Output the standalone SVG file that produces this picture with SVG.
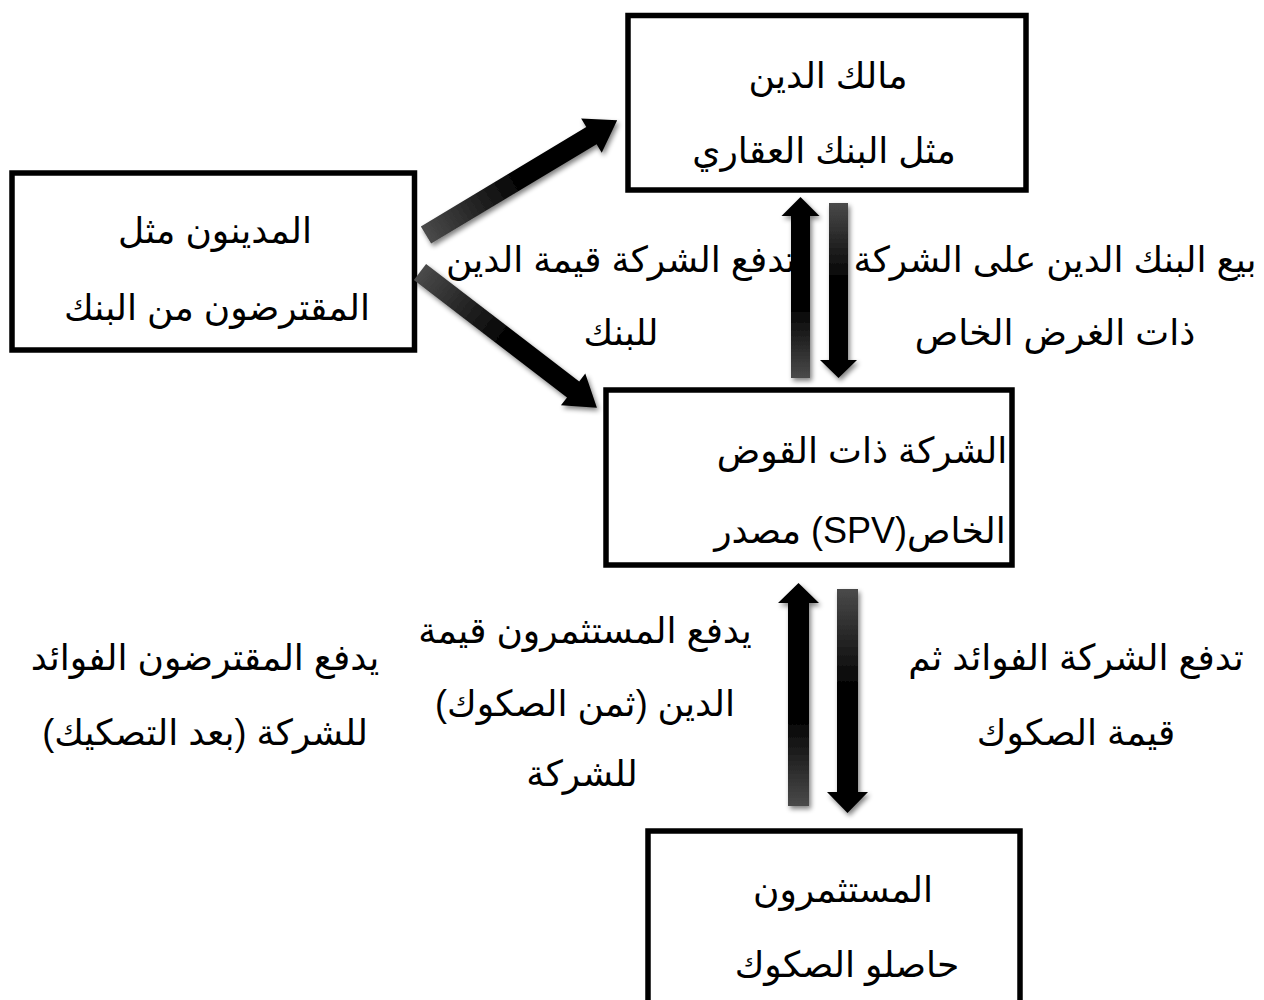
<svg xmlns="http://www.w3.org/2000/svg" width="1264" height="1000" viewBox="0 0 1264 1000">
<style>
.box{fill:#fff;stroke:#000;stroke-width:5.5}
.t{font-family:"Liberation Sans","DejaVu Sans",sans-serif;font-size:36px;fill:#000;text-anchor:middle;direction:rtl}
</style>
<defs>
<linearGradient id="gUp" x1="0" y1="0" x2="0" y2="1">
<stop offset="0" stop-color="#000"/><stop offset="0.6" stop-color="#000"/><stop offset="1" stop-color="#4a4a4a"/>
</linearGradient>
<linearGradient id="gDown" x1="0" y1="0" x2="0" y2="1">
<stop offset="0" stop-color="#4a4a4a"/><stop offset="0.45" stop-color="#000"/><stop offset="1" stop-color="#000"/>
</linearGradient>
<linearGradient id="gDiag" x1="0" y1="0" x2="1" y2="0">
<stop offset="0" stop-color="#4a4a4a"/><stop offset="0.5" stop-color="#000"/><stop offset="1" stop-color="#000"/>
</linearGradient>
<filter id="sh" x="-20%" y="-20%" width="140%" height="140%">
<feGaussianBlur in="SourceAlpha" stdDeviation="2.5"/>
<feOffset dx="2" dy="3" result="b"/>
<feComponentTransfer><feFuncA type="linear" slope="0.5"/></feComponentTransfer>
<feMerge><feMergeNode/><feMergeNode in="SourceGraphic"/></feMerge>
</filter>
</defs>

<g id="labels">
<text class="t" x="1055" y="272">بيع البنك الدين على الشركة</text>
<text class="t" x="1055" y="345">ذات الغرض الخاص</text>
<text class="t" x="621" y="272">تدفع الشركة قيمة الدين</text>
<text class="t" x="621" y="345">للبنك</text>
<text class="t" x="205" y="670">يدفع المقترضون الفوائد</text>
<text class="t" x="205" y="745">للشركة (بعد التصكيك)</text>
<text class="t" x="585" y="643">يدفع المستثمرون قيمة</text>
<text class="t" x="585" y="716">الدين (ثمن الصكوك)</text>
<text class="t" x="582" y="786">للشركة</text>
<text class="t" x="1076" y="670">تدفع الشركة الفوائد ثم</text>
<text class="t" x="1076" y="745">قيمة الصكوك</text>
</g>

<g id="node-owner">
<rect class="box" x="628" y="15.5" width="398" height="174.5"/>
<text class="t" x="828" y="88">مالك الدين</text>
<text class="t" x="824" y="163">مثل البنك العقاري</text>
</g>

<g id="node-debtors">
<rect class="box" x="12" y="173" width="402.5" height="177"/>
<text class="t" x="215" y="243">المدينون مثل</text>
<text class="t" x="217" y="320">المقترضون من البنك</text>
</g>

<g id="node-spv">
<rect class="box" x="606" y="390" width="406" height="175"/>
<text class="t" x="862" y="463">الشركة ذات القوض</text>
<text class="t" x="860" y="543">الخاص(SPV) مصدر</text>
</g>

<g id="node-investors">
<rect class="box" x="648" y="831" width="372" height="200"/>
<text class="t" x="843" y="902">المستثمرون</text>
<text class="t" x="847" y="977">حاصلو الصكوك</text>
</g>

<g id="connectors" filter="url(#sh)">
<path fill="url(#gDiag)" transform="translate(426,235) rotate(-31)" d="M0,-10 H193 V-20 L223,0 L193,20 V10 H0 Z"/>
<path fill="url(#gDiag)" transform="translate(420,272) rotate(37.5)" d="M0,-10 H193 V-20 L223,0 L193,20 V10 H0 Z"/>
<path fill="url(#gUp)" d="M791,378 V216 H781.5 L800.5,197 L819.5,216 H810 V378 Z"/>
<path fill="url(#gDown)" d="M829,203 V360 H820 L838.5,378 L857,360 H848 V203 Z"/>
<path fill="url(#gUp)" d="M788,806 V603 H778 L798.5,583 L819,603 H809 V806 Z"/>
<path fill="url(#gDown)" d="M837,589 V792 H827 L847.5,813 L868,792 H858 V589 Z"/>
</g>
</svg>
